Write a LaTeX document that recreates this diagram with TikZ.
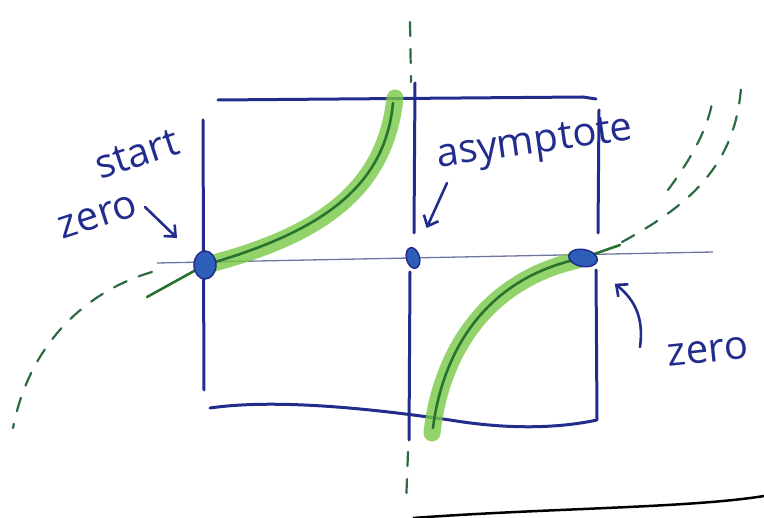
\documentclass[tikz,border=0pt]{standalone}
\usepackage{fontspec}
\setmainfont{Open Sans}
\usetikzlibrary{arrows.meta,shapes.geometric}
\definecolor{penblue}{RGB}{34,44,140}
\definecolor{dotblue}{RGB}{45,95,185}
\definecolor{axisgray}{RGB}{110,118,160}
\definecolor{hlgreen}{RGB}{120,200,70}
\definecolor{pengreen}{RGB}{40,115,45}
\definecolor{dashgreen}{RGB}{45,105,65}
\tikzset{
  boxline/.style={penblue, line width=3pt, line cap=round, line join=round},
  axisline/.style={axisgray, line width=1.3pt},
  dotmark/.style={draw=penblue, fill=dotblue, ellipse, line width=1.5pt, inner sep=0pt},
  hlcurve/.style={hlgreen, line width=17pt, line cap=round, opacity=0.8},
  pencurve/.style={pengreen, line width=2.6pt, line cap=round},
  dashcurve/.style={dashgreen, line width=2.2pt, line cap=round, dash pattern=on 14pt off 13pt},
  handtext/.style={penblue, font=\fontsize{40}{40}\selectfont, inner sep=0pt},
  pointer/.style={penblue, line width=2.6pt, line cap=round, -{Straight Barb[length=9pt, width=16pt]}},
}

\begin{document}
\begin{tikzpicture}[x=1pt, y=-1pt]
  \useasboundingbox (0,0) rectangle (764,518);

  % box and asymptote
  \draw[boxline] (203,120) -- (204,390);
  \draw[boxline] (218,100) -- (583,97) -- (596,99);
  \draw[boxline] (599,110) -- (598,233);
  \draw[boxline] (596,270) -- (597,419);
  \draw[boxline] (210,408) .. controls (280,398) and (380,410) .. (450,420)
    .. controls (510,430) and (560,428) .. (597,420);
  \draw[boxline] (415,83) -- (414,233);
  \draw[boxline] (410,272) -- (409,440);
  \draw[dashcurve] (410,22) -- (411,82);
  \draw[dashcurve] (408,452) -- (406,505);

  % axis
  \coordinate (axL) at (157,263);
  \coordinate (axR) at (713,252);
  \draw[axisline] (axL) -- (axR);

  % green branches
  \draw[hlcurve] (210,264) .. controls (320,235) and (385,190) .. (395,98);
  \draw[hlcurve] (578,260) .. controls (480,282) and (440,360) .. (432,433);
  \draw[pencurve] (147,297) -- (205,265) .. controls (320,232) and (385,188) .. (393,103);
  \draw[pencurve] (620,245) -- (583,258) .. controls (482,278) and (442,356) .. (433,428);

  % dashed continuations
  \draw[dashcurve] (152,272) .. controls (90,290) and (30,340) .. (13,428);
  \draw[dashcurve] (622,242) .. controls (690,205) and (735,165) .. (741,88);
  \draw[dashcurve] (668,190) .. controls (690,160) and (708,130) .. (713,98);

  % zeros and pole
  \node[dotmark, minimum width=22pt, minimum height=28pt] (z1) at (205,265) {};
  \node[dotmark, minimum width=13pt, minimum height=21pt, rotate=15] (pole) at (413,258) {};
  \node[dotmark, minimum width=29pt, minimum height=17pt, rotate=-10] (z2) at (583,258) {};

  % labels
  \node[handtext, rotate=18] (lstart) at (137,154) {start};
  \node[handtext, rotate=18] (lzero1) at (98,217) {zero};
  \node[handtext, rotate=8] (lasym) at (535,145) {asymptote};
  \node[handtext, rotate=6] (lzero2) at (708,352) {zero};

  \coordinate (t1) at (145,207);
  \coordinate (t2) at (447,183);
  \coordinate (t3) at (640,347);
  \draw[pointer, shorten >=26pt] (t1) -- (z1);
  \draw[pointer, shorten >=24pt] (t2) -- (pole);
  \draw[pointer, shorten >=28pt] (t3) .. controls (644,318) and (635,300) .. (z2);

  % pen stroke at the bottom
  \draw[black, line width=2.5pt] (413,518) .. controls (550,508) and (690,508) .. (764,496);
\end{tikzpicture}
\end{document}
